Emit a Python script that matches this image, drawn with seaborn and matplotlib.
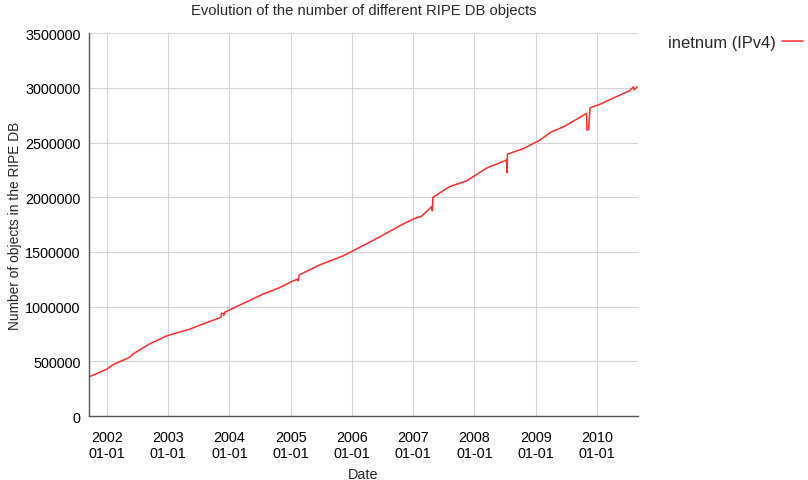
import numpy as np
import pandas as pd
import matplotlib
matplotlib.use('Agg')
import matplotlib.pyplot as plt
import matplotlib.dates as mdates
import seaborn as sns

sns.set_theme(style='white')
plt.rcParams['font.family'] = ['Liberation Sans', 'DejaVu Sans']

# values
dates = ['2001-09-20', '2002-01-01', '2002-02-05', '2002-05-15', '2002-06-05',
         '2002-09-10', '2002-12-25', '2003-05-10', '2003-11-12', '2003-11-14',
         '2003-11-25', '2003-11-28', '2003-12-05', '2003-12-15', '2004-02-15',
         '2004-07-20', '2004-10-30', '2005-01-15', '2005-02-10', '2005-02-14',
         '2005-02-20', '2005-06-25', '2005-11-10', '2006-01-08', '2006-06-18',
         '2006-11-01', '2007-01-01', '2007-02-05', '2007-02-15', '2007-03-01',
         '2007-04-22', '2007-04-25', '2007-04-28', '2007-08-05', '2007-11-15',
         '2008-03-15', '2008-07-10', '2008-07-13', '2008-07-16', '2008-10-20',
         '2009-01-25', '2009-03-28', '2009-06-15', '2009-09-10', '2009-10-30',
         '2009-11-02', '2009-11-12', '2009-11-20', '2010-01-20', '2010-05-20',
         '2010-07-15', '2010-08-05', '2010-08-10', '2010-08-28']
inetnum = [360000, 429000, 469000, 536000, 567000,
           658000, 734000, 795000, 903000, 940000,
           935000, 920000, 950000, 957000, 1002000,
           1115000, 1176000, 1236000, 1250000, 1236000,
           1290000, 1383000, 1465000, 1511000, 1640000,
           1755000, 1800000, 1821000, 1820000, 1840000,
           1916000, 1876000, 1998000, 2097000, 2150000,
           2268000, 2340000, 2226000, 2394000, 2445000,
           2522000, 2592000, 2644000, 2721000, 2766000,
           2614000, 2620000, 2817000, 2851000, 2936000,
           2975000, 3009000, 2982000, 3009000]
y_ticks = [0, 500000, 1000000, 1500000, 2000000, 2500000, 3000000, 3500000]

df = pd.DataFrame({'Date': pd.to_datetime(dates), 'objects': inetnum})

fig = plt.figure(figsize=(8.08, 4.81), dpi=100)
ax = fig.add_axes([0.110, 0.133, 0.680, 0.796])

sns.lineplot(x='Date', y='objects', data=df, ax=ax, color='#ff2b2b',
             linewidth=1.1, label='inetnum (IPv4)')

ax.set_xlim(pd.Timestamp('2001-09-15'), pd.Timestamp('2010-09-04'))
ax.set_ylim(0, 3500000)
ax.set_yticks(y_ticks)
ax.set_yticklabels([str(v) for v in y_ticks])

ax.xaxis.set_major_locator(mdates.YearLocator())
ax.xaxis.set_major_formatter(mdates.DateFormatter('%Y\n%m-%d'))
ax.xaxis.set_minor_locator(mdates.MonthLocator(bymonth=[4, 7, 10]))

ax.grid(True, which='major', color='#d4d4d4', linewidth=0.8)
ax.tick_params(axis='both', which='both', direction='in', colors='#555555',
               labelcolor='black', labelsize=10.4)
ax.tick_params(axis='x', which='major', length=7, width=0.8, pad=10)
ax.tick_params(axis='x', which='minor', length=3, width=0.8)
ax.tick_params(axis='y', which='major', length=5, width=0.8, pad=6)
for lab in ax.get_xticklabels():
    lab.set_linespacing(1.2)

for side in ['top', 'right']:
    ax.spines[side].set_visible(False)
for side in ['left', 'bottom']:
    ax.spines[side].set_color('#555555')
    ax.spines[side].set_linewidth(1.0)

ax.set_title('Evolution of the number of different RIPE DB objects',
             fontsize=10.6, pad=14)
ax.set_xlabel('Date', fontsize=10.4, labelpad=5)
ax.set_ylabel('Number of objects in the RIPE DB', fontsize=9.9, labelpad=2)

ax.legend(loc='upper right', bbox_to_anchor=(0.994, 0.925),
          bbox_transform=fig.transFigure, frameon=False, markerfirst=False,
          fontsize=11.9, handlelength=1.3, handletextpad=0.35,
          borderpad=0, borderaxespad=0)

fig.savefig('out.png', dpi=100)
